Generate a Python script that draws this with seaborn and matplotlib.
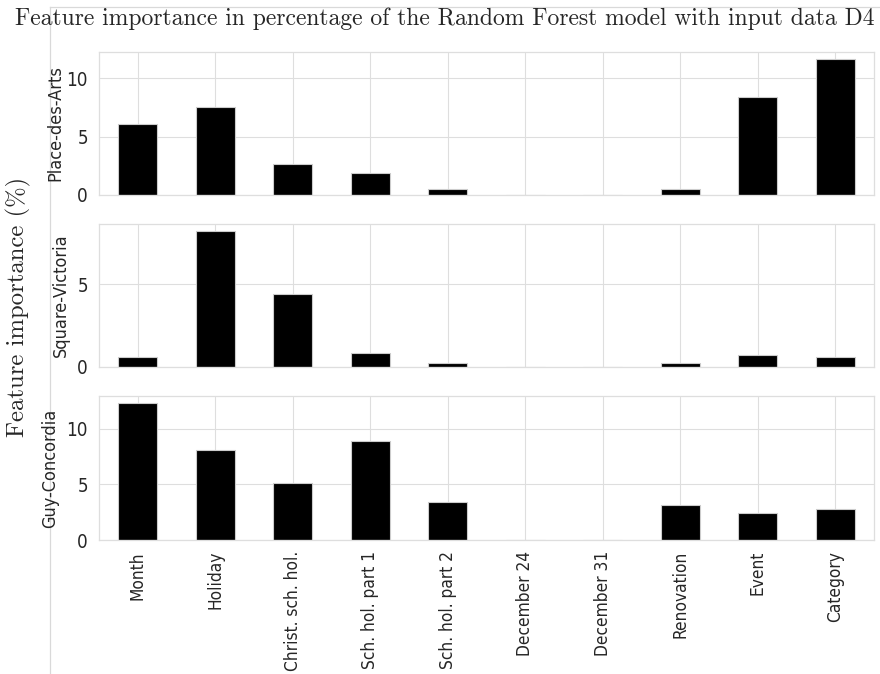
import matplotlib
matplotlib.use("Agg")
import matplotlib.pyplot as plt
from matplotlib.ticker import MultipleLocator
import seaborn as sns
import pandas as pd

features = ["Month", "Holiday", "Christ. sch. hol.", "Sch. hol. part 1", "Sch. hol. part 2",
            "December 24", "December 31", "Renovation", "Event", "Category"]
stations = ["Place-des-Arts", "Square-Victoria", "Guy-Concordia"]
place_des_arts = [6.08, 7.57, 2.65, 1.9, 0.5, 0.0, 0.0, 0.5, 8.44, 11.67]
square_victoria = [0.6, 8.22, 4.4, 0.83, 0.25, 0.0, 0.0, 0.22, 0.7, 0.63]
guy_concordia = [12.3, 8.1, 5.15, 8.85, 3.43, 0.0, 0.0, 3.16, 2.44, 2.8]

df = pd.DataFrame({"feature": features,
                   stations[0]: place_des_arts,
                   stations[1]: square_victoria,
                   stations[2]: guy_concordia})

sns.set_theme(style="whitegrid")
plt.rcParams["font.family"] = ["DejaVu Sans"]
plt.rcParams["font.stretch"] = "condensed"

fig = plt.figure(figsize=(8.8, 6.74), dpi=100)

# big background axes, only its frame shows
bg = fig.add_axes([50 / 880, -0.05, 1.0, 1.05 - 7 / 674])
bg.set_xticks([])
bg.set_yticks([])
bg.grid(False)
for sp in bg.spines.values():
    sp.set_color("0.85")
    sp.set_linewidth(0.9)

W, H = 880, 674
left, right = 99, 874
boxes = [(52, 195), (224, 367), (396, 540)]
label_x = [-0.045, -0.037, -0.051]
axes = []
for top, bottom in boxes:
    ax = fig.add_axes([left / W, 1 - bottom / H, (right - left) / W, (bottom - top) / H])
    axes.append(ax)

for i, (ax, st) in enumerate(zip(axes, stations)):
    sns.barplot(data=df, x="feature", y=st, color="black", width=0.5,
                edgecolor="0.8", linewidth=0.8, saturation=1, ax=ax)
    ax.grid(True, axis="both", color="0.87", linewidth=0.8)
    ax.set_axisbelow(True)
    for sp in ax.spines.values():
        sp.set_color("0.87")
        sp.set_linewidth(0.9)
    ax.yaxis.set_major_locator(MultipleLocator(5))
    ax.set_ylabel(st, fontsize=13)
    ax.yaxis.set_label_coords(label_x[i], 0.5)
    ax.set_xlabel("")
    ax.tick_params(axis="y", labelsize=13.5, pad=2)
    if i < 2:
        ax.set_xticklabels([])
    else:
        ax.tick_params(axis="x", labelsize=12.4, labelrotation=90, pad=2)

fig.text(0.505, 1 - 25 / H, "Feature importance in percentage of the Random Forest model with input data D4",
         ha="center", va="baseline", family="cmr10", stretch="normal", fontsize=17)
fig.text(0.021, 0.544, "Feature importance (%)", rotation=90, ha="center", va="center",
         family="cmr10", stretch="normal", fontsize=17.8)

fig.savefig("out.png", dpi=100)
